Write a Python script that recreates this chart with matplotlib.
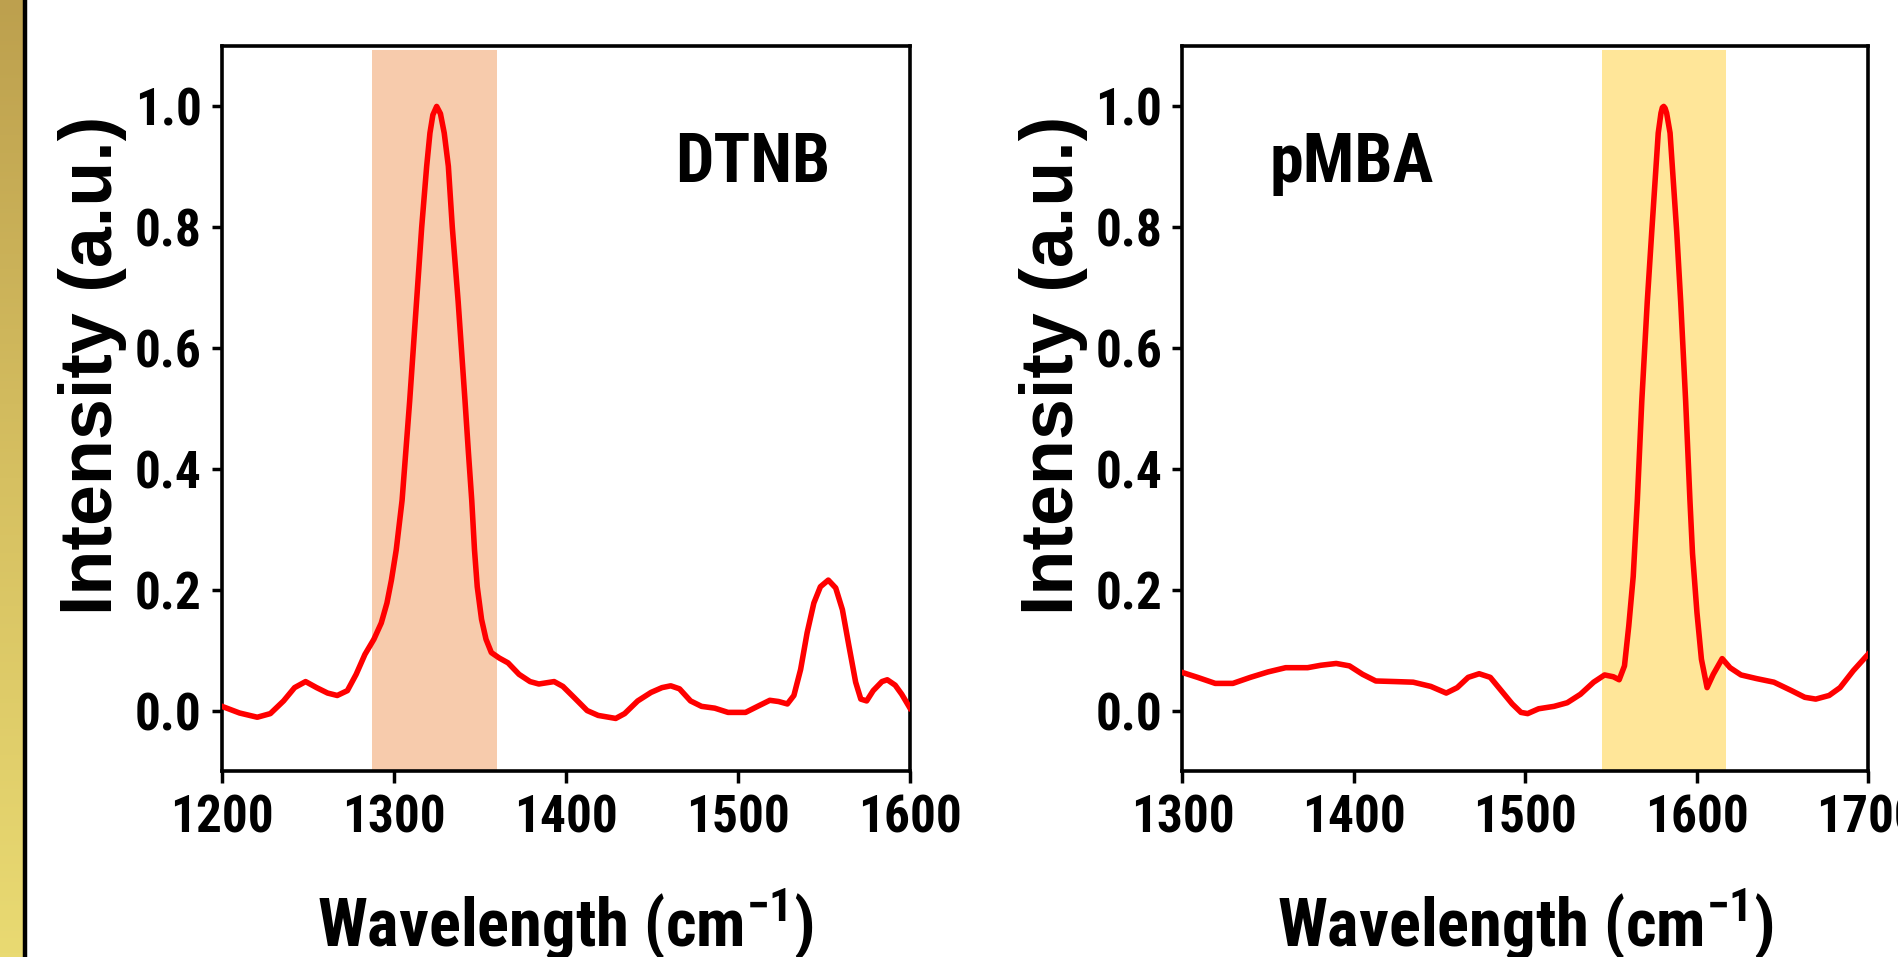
import numpy as np
import matplotlib
matplotlib.use("Agg")
from matplotlib import pyplot as plt
from matplotlib import font_manager

# the reference text is a narrow bold sans; look for any condensed face installed
cond = None
for want in ['liberation sans narrow', 'arial narrow', 'roboto condensed', 'open sans condensed',
             'noto sans condensed', 'dejavu sans']:
    for f in font_manager.fontManager.ttflist:
        fn = f.fname.lower()
        if f.name.lower().startswith(want.split(' condensed')[0]) and f.weight in ('bold', 700) \
                and ('condensed' in str(f.stretch) or 'narrow' in fn or 'condensed' in fn) \
                and 'oblique' not in fn and 'italic' not in fn:
            cond = f
            break
    if cond is not None:
        break

if cond is not None:
    fam = cond.name
    stretch = 'condensed' if ('condensed' in str(cond.stretch) or 'condensed' in cond.fname.lower()) else 'normal'
    scale = 1.0
else:
    fam = 'Liberation Sans'
    stretch = 'normal'
    scale = 0.8

plt.rcParams['font.family'] = [fam, 'DejaVu Sans']
plt.rcParams['font.weight'] = 'bold'
plt.rcParams['font.stretch'] = stretch
plt.rcParams['mathtext.fontset'] = 'custom'
plt.rcParams['mathtext.rm'] = f'{fam}:bold'
plt.rcParams['mathtext.bf'] = f'{fam}:bold'
plt.rcParams['mathtext.default'] = 'rm'

# DTNB spectrum
dtnb_x = [1200.0, 1210.2, 1220.5, 1228.1, 1235.8, 1242.2, 1248.6, 1255.0, 1261.4, 1267.0,
          1272.9, 1278.0, 1283.1, 1288.3, 1292.6, 1295.9, 1298.5, 1301.3, 1304.7, 1306.9,
          1309.1, 1316.1, 1319.0, 1320.9, 1322.6, 1324.8, 1327.0, 1329.2, 1331.6, 1333.9,
          1337.3, 1341.3, 1343.2, 1345.2, 1346.8, 1348.4, 1350.9, 1353.5, 1356.6, 1361.2,
          1366.3, 1372.7, 1379.1, 1384.2, 1393.1, 1398.2, 1404.6, 1412.3, 1418.7, 1428.9,
          1434.1, 1441.7, 1449.4, 1455.8, 1460.9, 1466.0, 1472.4, 1478.8, 1486.5, 1494.2,
          1504.4, 1512.1, 1518.5, 1523.6, 1528.7, 1532.5, 1536.4, 1540.2, 1544.1, 1547.9,
          1552.5, 1556.8, 1560.7, 1564.5, 1568.4, 1571.4, 1574.8, 1578.6, 1583.7, 1586.8,
          1591.4, 1595.2, 1600.0]
dtnb_y = [0.007, -0.004, -0.011, -0.005, 0.016, 0.038, 0.048, 0.038, 0.029, 0.025,
          0.033, 0.060, 0.093, 0.118, 0.145, 0.178, 0.216, 0.266, 0.348, 0.430,
          0.512, 0.800, 0.901, 0.956, 0.986, 1.000, 0.988, 0.956, 0.901, 0.800,
          0.677, 0.512, 0.430, 0.348, 0.266, 0.205, 0.151, 0.118, 0.096, 0.087,
          0.079, 0.060, 0.048, 0.044, 0.048, 0.040, 0.022, 0.000, -0.008, -0.013,
          -0.005, 0.016, 0.030, 0.038, 0.041, 0.036, 0.016, 0.007, 0.004, -0.003,
          -0.003, 0.008, 0.017, 0.015, 0.011, 0.025, 0.068, 0.129, 0.178, 0.205,
          0.216, 0.203, 0.167, 0.107, 0.047, 0.019, 0.016, 0.033, 0.048, 0.051,
          0.042, 0.027, 0.004]

# pMBA spectrum
pmba_x = [1300.0, 1308.8, 1319.1, 1329.4, 1339.6, 1349.9, 1360.2, 1373.0, 1380.7, 1389.7,
          1397.4, 1405.1, 1412.8, 1424.3, 1434.6, 1444.9, 1453.9, 1460.3, 1466.7, 1473.1,
          1479.6, 1486.0, 1492.4, 1497.5, 1501.4, 1507.8, 1516.8, 1524.5, 1532.2, 1539.9,
          1546.3, 1551.4, 1554.8, 1557.9, 1560.4, 1563.0, 1565.4, 1568.0, 1571.2, 1573.8,
          1577.6, 1579.2, 1580.0, 1580.8, 1581.6, 1582.5, 1584.5, 1588.4, 1590.7, 1593.6,
          1596.1, 1597.6, 1600.2, 1602.8, 1606.1, 1609.7, 1614.9, 1619.5, 1625.9, 1634.9,
          1645.1, 1655.4, 1663.1, 1669.5, 1677.3, 1683.7, 1691.4, 1700.0]
pmba_y = [0.063, 0.055, 0.045, 0.045, 0.055, 0.064, 0.071, 0.071, 0.075, 0.078,
          0.074, 0.060, 0.049, 0.048, 0.047, 0.040, 0.029, 0.038, 0.055, 0.061,
          0.055, 0.033, 0.011, -0.003, -0.005, 0.003, 0.007, 0.013, 0.027, 0.047,
          0.059, 0.056, 0.051, 0.074, 0.140, 0.222, 0.348, 0.512, 0.677, 0.792,
          0.956, 0.989, 0.998, 1.000, 0.997, 0.989, 0.956, 0.792, 0.677, 0.512,
          0.348, 0.260, 0.162, 0.085, 0.038, 0.060, 0.086, 0.071, 0.059, 0.053,
          0.047, 0.033, 0.022, 0.019, 0.025, 0.038, 0.066, 0.093]

panels = [
    dict(x=dtnb_x, y=dtnb_y, name='DTNB', xlim=(1200, 1600), band=(1287, 1360),
         band_color='#F7CBAC', pos=[222/1899, 186/957, 688/1899, 725/957], name_x=0.772),
    dict(x=pmba_x, y=pmba_y, name='pMBA', xlim=(1300, 1700), band=(1545, 1617),
         band_color='#FFE699', pos=[1182.5/1899, 186/957, 685.5/1899, 725/957], name_x=0.247),
]

fig = plt.figure(figsize=(18.99, 9.57), dpi=100)

# golden strip on the far left
strip = fig.add_axes([0, 0, 23/1899, 1])
grad = np.linspace(0, 1, 256).reshape(-1, 1)
cmap = matplotlib.colors.LinearSegmentedColormap.from_list('gold', ['#BDA04E', '#D6C061', '#E9DA72'])
strip.imshow(grad, aspect='auto', cmap=cmap, extent=[0, 1, 0, 1], origin='upper')
strip.axis('off')
fig.add_artist(plt.Line2D([25/1899, 25/1899], [0, 1], color='black', lw=3.2, transform=fig.transFigure))

for p in panels:
    ax = fig.add_axes(p['pos'])
    ax.axvspan(p['band'][0], p['band'][1], ymin=0, ymax=0.995, color=p['band_color'], lw=0, zorder=0)
    ax.plot(p['x'], p['y'], color='#FF0000', lw=4.0, zorder=3, solid_joinstyle='round')
    ax.set_xlim(*p['xlim'])
    ax.set_ylim(-0.1, 1.1)
    ax.set_xticks(np.arange(p['xlim'][0], p['xlim'][1] + 1, 100))
    ax.set_yticks([0.0, 0.2, 0.4, 0.6, 0.8, 1.0])
    ax.yaxis.set_major_formatter(matplotlib.ticker.FormatStrFormatter('%.1f'))
    for s in ax.spines.values():
        s.set_linewidth(2.6)
    ax.tick_params(axis='both', direction='out', width=2.5, labelsize=37 * scale)
    ax.tick_params(axis='y', length=7.5, pad=7)
    ax.tick_params(axis='x', length=8.5, pad=8)
    for lab in ax.get_xticklabels() + ax.get_yticklabels():
        lab.set_fontweight('bold')

    ax.set_xlabel('Wavelength (cm$^{-1}$)', fontsize=48 * scale, fontweight='bold')
    ax.xaxis.set_label_coords(0.5, -0.242)
    ax.xaxis.label.set_va('baseline')

    ax.set_ylabel('Intensity (a.u.)', fontsize=53, fontweight='bold',
                  family=['Liberation Sans', 'DejaVu Sans'], stretch='normal')
    ax.yaxis.set_label_coords(-0.188, 0.559)
    ax.yaxis.label.set_va('center')

    ax.text(p['name_x'], 0.813, p['name'], transform=ax.transAxes, fontsize=49 * scale,
            fontweight='bold', ha='center', va='baseline')

fig.savefig('out.png', dpi=100)
